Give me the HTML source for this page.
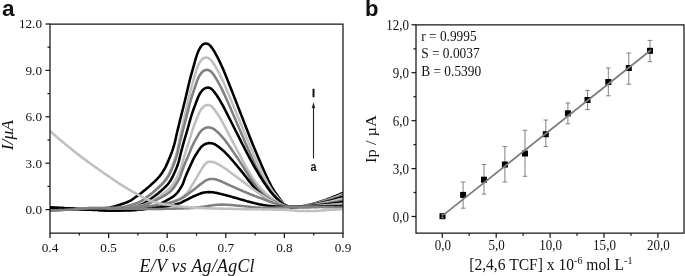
<!DOCTYPE html>
<html><head><meta charset="utf-8"><title>figure</title>
<style>html,body{margin:0;padding:0;background:#fff}svg{display:block}</style></head>
<body>
<svg width="685" height="276" viewBox="0 0 685 276">
<rect width="685" height="276" fill="#fff"/>
<defs><clipPath id="ca"><rect x="50" y="24" width="293" height="209.1"/></clipPath></defs>
<g clip-path="url(#ca)" fill="none" stroke-width="2.55" stroke-linejoin="round">
<path d="M50.0,207.7 L51.0,207.7 L52.0,207.8 L53.0,207.8 L54.0,207.9 L55.0,207.9 L56.0,207.9 L57.0,208.0 L58.0,208.0 L59.0,208.0 L60.0,208.1 L61.0,208.1 L62.0,208.1 L63.0,208.1 L64.0,208.2 L65.0,208.2 L66.0,208.2 L67.0,208.2 L68.0,208.2 L69.0,208.3 L70.0,208.3 L71.0,208.3 L72.0,208.3 L73.0,208.3 L74.0,208.4 L75.0,208.4 L76.0,208.4 L77.0,208.4 L78.0,208.4 L79.0,208.4 L80.0,208.4 L81.0,208.5 L82.0,208.5 L83.0,208.5 L84.0,208.5 L85.0,208.5 L86.0,208.5 L87.0,208.5 L88.0,208.5 L89.0,208.5 L90.0,208.5 L91.0,208.5 L92.0,208.5 L93.0,208.5 L94.0,208.4 L95.0,208.4 L96.0,208.4 L97.0,208.4 L98.0,208.4 L99.0,208.4 L100.0,208.3 L101.0,208.3 L102.0,208.3 L103.0,208.2 L104.0,208.2 L105.0,208.1 L106.0,208.1 L107.0,208.0 L108.0,207.9 L109.0,207.7 L110.0,207.5 L111.0,207.3 L112.0,207.0 L113.0,206.7 L114.0,206.5 L115.0,206.2 L116.0,205.9 L117.0,205.6 L118.0,205.3 L119.0,205.0 L120.0,204.7 L121.0,204.3 L122.0,204.0 L123.0,203.7 L124.0,203.3 L125.0,203.0 L126.0,202.6 L127.0,202.2 L128.0,201.8 L129.0,201.3 L130.0,200.8 L131.0,200.3 L132.0,199.7 L133.0,199.0 L134.0,198.3 L135.0,197.5 L136.0,196.8 L137.0,196.1 L138.0,195.4 L139.0,194.7 L140.0,193.9 L141.0,193.2 L142.0,192.4 L143.0,191.6 L144.0,190.8 L145.0,190.0 L146.0,189.2 L147.0,188.3 L148.0,187.5 L149.0,186.6 L150.0,185.7 L151.0,184.8 L152.0,183.9 L153.0,183.0 L154.0,182.1 L155.0,181.1 L156.0,180.1 L157.0,179.1 L158.0,178.0 L159.0,176.9 L160.0,175.7 L161.0,174.4 L162.0,173.0 L163.0,171.4 L164.0,169.8 L165.0,168.0 L166.0,166.1 L167.0,163.9 L168.0,161.6 L169.0,159.2 L170.0,156.8 L171.0,154.2 L172.0,151.6 L173.0,148.7 L174.0,145.5 L175.0,141.6 L176.0,137.2 L177.0,132.8 L178.0,128.6 L179.0,124.5 L180.0,120.4 L181.0,116.4 L182.0,112.4 L183.0,108.5 L184.0,104.5 L185.0,100.4 L186.0,96.2 L187.0,91.8 L188.0,87.5 L189.0,83.2 L190.0,79.2 L191.0,75.4 L192.0,71.8 L193.0,68.3 L194.0,64.8 L195.0,61.2 L196.0,57.8 L197.0,54.6 L198.0,52.0 L199.0,49.8 L200.0,48.0 L201.0,46.5 L202.0,45.3 L203.0,44.4 L204.0,43.9 L205.0,43.6 L206.0,43.5 L207.0,43.7 L208.0,44.0 L209.0,44.6 L210.0,45.5 L211.0,46.6 L212.0,47.9 L213.0,49.4 L214.0,51.0 L215.0,52.7 L216.0,54.5 L217.0,56.3 L218.0,58.3 L219.0,60.3 L220.0,62.4 L221.0,64.5 L222.0,66.7 L223.0,68.9 L224.0,71.3 L225.0,73.7 L226.0,76.2 L227.0,78.8 L228.0,81.2 L229.0,83.7 L230.0,86.3 L231.0,88.8 L232.0,91.3 L233.0,93.9 L234.0,96.4 L235.0,99.0 L236.0,101.5 L237.0,104.1 L238.0,106.6 L239.0,109.2 L240.0,111.8 L241.0,114.4 L242.0,116.9 L243.0,119.5 L244.0,122.1 L245.0,124.6 L246.0,127.2 L247.0,129.8 L248.0,132.4 L249.0,135.0 L250.0,137.5 L251.0,140.0 L252.0,142.5 L253.0,144.9 L254.0,147.4 L255.0,149.8 L256.0,152.2 L257.0,154.6 L258.0,156.9 L259.0,159.3 L260.0,161.6 L261.0,164.0 L262.0,166.3 L263.0,168.6 L264.0,170.8 L265.0,173.1 L266.0,175.2 L267.0,177.3 L268.0,179.5 L269.0,181.5 L270.0,183.5 L271.0,185.5 L272.0,187.3 L273.0,189.0 L274.0,190.6 L275.0,192.2 L276.0,193.6 L277.0,195.0 L278.0,196.4 L279.0,197.8 L280.0,199.2 L281.0,200.6 L282.0,201.9 L283.0,203.1 L284.0,204.0 L285.0,204.7 L286.0,205.3 L287.0,205.8 L288.0,206.2 L289.0,206.6 L290.0,206.8 L291.0,206.9 L292.0,206.9 L293.0,206.9 L294.0,206.8 L295.0,206.8 L296.0,206.7 L297.0,206.6 L298.0,206.6 L299.0,206.5 L300.0,206.4 L301.0,206.3 L302.0,206.2 L303.0,206.0 L304.0,205.9 L305.0,205.7 L306.0,205.5 L307.0,205.3 L308.0,205.1 L309.0,204.8 L310.0,204.6 L311.0,204.4 L312.0,204.1 L313.0,203.9 L314.0,203.6 L315.0,203.3 L316.0,203.1 L317.0,202.8 L318.0,202.5 L319.0,202.2 L320.0,201.8 L321.0,201.5 L322.0,201.2 L323.0,200.8 L324.0,200.4 L325.0,200.1 L326.0,199.7 L327.0,199.4 L328.0,199.0 L329.0,198.6 L330.0,198.2 L331.0,197.9 L332.0,197.5 L333.0,197.1 L334.0,196.7 L335.0,196.3 L336.0,195.9 L337.0,195.4 L338.0,195.0 L339.0,194.6 L340.0,194.1 L341.0,193.7 L342.0,193.3 L343.0,192.8" stroke="#000000"/>
<path d="M50.0,210.0 L51.0,209.9 L52.0,209.9 L53.0,209.8 L54.0,209.8 L55.0,209.7 L56.0,209.7 L57.0,209.6 L58.0,209.6 L59.0,209.5 L60.0,209.5 L61.0,209.4 L62.0,209.4 L63.0,209.3 L64.0,209.3 L65.0,209.2 L66.0,209.2 L67.0,209.1 L68.0,209.1 L69.0,209.0 L70.0,209.0 L71.0,208.9 L72.0,208.8 L73.0,208.8 L74.0,208.7 L75.0,208.7 L76.0,208.6 L77.0,208.6 L78.0,208.6 L79.0,208.5 L80.0,208.5 L81.0,208.4 L82.0,208.4 L83.0,208.4 L84.0,208.3 L85.0,208.3 L86.0,208.2 L87.0,208.2 L88.0,208.1 L89.0,208.1 L90.0,208.0 L91.0,208.0 L92.0,208.0 L93.0,208.1 L94.0,208.1 L95.0,208.1 L96.0,208.1 L97.0,208.1 L98.0,208.1 L99.0,208.1 L100.0,208.1 L101.0,208.1 L102.0,208.1 L103.0,208.2 L104.0,208.2 L105.0,208.2 L106.0,208.1 L107.0,208.1 L108.0,208.1 L109.0,208.1 L110.0,208.1 L111.0,208.1 L112.0,208.1 L113.0,208.0 L114.0,208.0 L115.0,208.0 L116.0,208.0 L117.0,207.9 L118.0,207.9 L119.0,207.9 L120.0,207.8 L121.0,207.7 L122.0,207.6 L123.0,207.5 L124.0,207.4 L125.0,207.3 L126.0,207.0 L127.0,206.7 L128.0,206.4 L129.0,206.1 L130.0,205.8 L131.0,205.5 L132.0,205.2 L133.0,204.9 L134.0,204.5 L135.0,204.2 L136.0,203.8 L137.0,203.4 L138.0,203.1 L139.0,202.6 L140.0,202.2 L141.0,201.7 L142.0,201.2 L143.0,200.5 L144.0,199.8 L145.0,199.0 L146.0,198.2 L147.0,197.4 L148.0,196.6 L149.0,195.7 L150.0,194.9 L151.0,194.1 L152.0,193.2 L153.0,192.3 L154.0,191.4 L155.0,190.4 L156.0,189.5 L157.0,188.5 L158.0,187.5 L159.0,186.5 L160.0,185.5 L161.0,184.4 L162.0,183.3 L163.0,182.2 L164.0,181.1 L165.0,179.8 L166.0,178.5 L167.0,177.0 L168.0,175.3 L169.0,173.5 L170.0,171.5 L171.0,169.3 L172.0,166.7 L173.0,164.0 L174.0,161.2 L175.0,158.3 L176.0,155.2 L177.0,151.6 L178.0,147.2 L179.0,141.9 L180.0,137.0 L181.0,132.3 L182.0,127.7 L183.0,123.2 L184.0,118.9 L185.0,114.7 L186.0,110.4 L187.0,105.9 L188.0,101.4 L189.0,96.9 L190.0,92.6 L191.0,88.7 L192.0,85.0 L193.0,81.5 L194.0,78.1 L195.0,74.7 L196.0,71.4 L197.0,68.3 L198.0,65.7 L199.0,63.7 L200.0,61.9 L201.0,60.5 L202.0,59.4 L203.0,58.5 L204.0,58.0 L205.0,57.7 L206.0,57.5 L207.0,57.6 L208.0,57.9 L209.0,58.4 L210.0,59.2 L211.0,60.1 L212.0,61.3 L213.0,62.8 L214.0,64.3 L215.0,65.9 L216.0,67.5 L217.0,69.3 L218.0,71.1 L219.0,73.1 L220.0,75.0 L221.0,77.1 L222.0,79.1 L223.0,81.3 L224.0,83.5 L225.0,85.8 L226.0,88.2 L227.0,90.6 L228.0,92.9 L229.0,95.3 L230.0,97.6 L231.0,100.0 L232.0,102.4 L233.0,104.9 L234.0,107.3 L235.0,109.7 L236.0,112.1 L237.0,114.5 L238.0,116.9 L239.0,119.3 L240.0,121.8 L241.0,124.2 L242.0,126.6 L243.0,129.0 L244.0,131.5 L245.0,133.9 L246.0,136.4 L247.0,138.8 L248.0,141.2 L249.0,143.6 L250.0,146.0 L251.0,148.3 L252.0,150.6 L253.0,152.9 L254.0,155.2 L255.0,157.4 L256.0,159.7 L257.0,161.9 L258.0,164.0 L259.0,166.2 L260.0,168.3 L261.0,170.4 L262.0,172.5 L263.0,174.5 L264.0,176.4 L265.0,178.3 L266.0,180.2 L267.0,182.1 L268.0,183.9 L269.0,185.6 L270.0,187.3 L271.0,188.9 L272.0,190.4 L273.0,191.8 L274.0,193.1 L275.0,194.4 L276.0,195.6 L277.0,196.8 L278.0,198.0 L279.0,199.2 L280.0,200.4 L281.0,201.6 L282.0,202.7 L283.0,203.6 L284.0,204.4 L285.0,205.0 L286.0,205.5 L287.0,205.9 L288.0,206.3 L289.0,206.6 L290.0,206.8 L291.0,206.9 L292.0,206.9 L293.0,206.9 L294.0,206.8 L295.0,206.8 L296.0,206.7 L297.0,206.7 L298.0,206.6 L299.0,206.5 L300.0,206.5 L301.0,206.4 L302.0,206.3 L303.0,206.1 L304.0,206.0 L305.0,205.8 L306.0,205.6 L307.0,205.4 L308.0,205.2 L309.0,205.0 L310.0,204.8 L311.0,204.6 L312.0,204.4 L313.0,204.1 L314.0,203.9 L315.0,203.7 L316.0,203.4 L317.0,203.2 L318.0,202.9 L319.0,202.6 L320.0,202.3 L321.0,202.0 L322.0,201.7 L323.0,201.3 L324.0,201.0 L325.0,200.7 L326.0,200.4 L327.0,200.0 L328.0,199.7 L329.0,199.4 L330.0,199.0 L331.0,198.7 L332.0,198.3 L333.0,198.0 L334.0,197.6 L335.0,197.2 L336.0,196.9 L337.0,196.5 L338.0,196.1 L339.0,195.7 L340.0,195.3 L341.0,194.9 L342.0,194.5 L343.0,194.1" stroke="#c0c0c0"/>
<path d="M50.0,210.0 L51.0,210.0 L52.0,209.9 L53.0,209.9 L54.0,209.8 L55.0,209.8 L56.0,209.7 L57.0,209.7 L58.0,209.6 L59.0,209.6 L60.0,209.5 L61.0,209.5 L62.0,209.4 L63.0,209.4 L64.0,209.3 L65.0,209.3 L66.0,209.2 L67.0,209.2 L68.0,209.1 L69.0,209.1 L70.0,209.0 L71.0,209.0 L72.0,208.9 L73.0,208.9 L74.0,208.9 L75.0,208.8 L76.0,208.8 L77.0,208.7 L78.0,208.7 L79.0,208.6 L80.0,208.6 L81.0,208.5 L82.0,208.5 L83.0,208.4 L84.0,208.4 L85.0,208.3 L86.0,208.3 L87.0,208.2 L88.0,208.2 L89.0,208.1 L90.0,208.1 L91.0,208.1 L92.0,208.1 L93.0,208.1 L94.0,208.1 L95.0,208.1 L96.0,208.1 L97.0,208.1 L98.0,208.1 L99.0,208.1 L100.0,208.1 L101.0,208.1 L102.0,208.1 L103.0,208.1 L104.0,208.1 L105.0,208.1 L106.0,208.1 L107.0,208.1 L108.0,208.1 L109.0,208.1 L110.0,208.0 L111.0,208.0 L112.0,208.0 L113.0,208.0 L114.0,208.0 L115.0,207.9 L116.0,207.9 L117.0,207.8 L118.0,207.8 L119.0,207.7 L120.0,207.6 L121.0,207.5 L122.0,207.3 L123.0,207.1 L124.0,206.9 L125.0,206.6 L126.0,206.4 L127.0,206.1 L128.0,205.8 L129.0,205.6 L130.0,205.3 L131.0,205.0 L132.0,204.7 L133.0,204.4 L134.0,204.0 L135.0,203.7 L136.0,203.4 L137.0,203.0 L138.0,202.6 L139.0,202.2 L140.0,201.7 L141.0,201.1 L142.0,200.5 L143.0,199.8 L144.0,199.0 L145.0,198.3 L146.0,197.6 L147.0,196.9 L148.0,196.2 L149.0,195.5 L150.0,194.7 L151.0,194.0 L152.0,193.2 L153.0,192.4 L154.0,191.5 L155.0,190.7 L156.0,189.8 L157.0,189.0 L158.0,188.1 L159.0,187.2 L160.0,186.2 L161.0,185.3 L162.0,184.3 L163.0,183.3 L164.0,182.2 L165.0,181.0 L166.0,179.7 L167.0,178.3 L168.0,176.8 L169.0,175.1 L170.0,173.2 L171.0,171.0 L172.0,168.7 L173.0,166.3 L174.0,163.8 L175.0,161.2 L176.0,158.3 L177.0,155.0 L178.0,150.8 L179.0,146.2 L180.0,142.0 L181.0,137.9 L182.0,133.9 L183.0,130.0 L184.0,126.2 L185.0,122.5 L186.0,118.7 L187.0,114.8 L188.0,110.8 L189.0,106.8 L190.0,103.0 L191.0,99.5 L192.0,96.2 L193.0,93.0 L194.0,90.0 L195.0,87.0 L196.0,84.0 L197.0,81.1 L198.0,78.6 L199.0,76.5 L200.0,74.8 L201.0,73.4 L202.0,72.2 L203.0,71.3 L204.0,70.6 L205.0,70.2 L206.0,69.9 L207.0,69.8 L208.0,69.9 L209.0,70.3 L210.0,70.8 L211.0,71.6 L212.0,72.7 L213.0,73.9 L214.0,75.3 L215.0,76.8 L216.0,78.4 L217.0,80.0 L218.0,81.8 L219.0,83.6 L220.0,85.5 L221.0,87.4 L222.0,89.4 L223.0,91.4 L224.0,93.6 L225.0,95.8 L226.0,98.0 L227.0,100.3 L228.0,102.6 L229.0,104.8 L230.0,107.1 L231.0,109.4 L232.0,111.7 L233.0,114.0 L234.0,116.3 L235.0,118.6 L236.0,120.9 L237.0,123.3 L238.0,125.6 L239.0,127.9 L240.0,130.2 L241.0,132.5 L242.0,134.9 L243.0,137.2 L244.0,139.5 L245.0,141.9 L246.0,144.2 L247.0,146.5 L248.0,148.8 L249.0,151.1 L250.0,153.3 L251.0,155.5 L252.0,157.8 L253.0,159.9 L254.0,162.1 L255.0,164.2 L256.0,166.2 L257.0,168.2 L258.0,170.2 L259.0,172.1 L260.0,174.0 L261.0,175.9 L262.0,177.7 L263.0,179.4 L264.0,181.1 L265.0,182.8 L266.0,184.4 L267.0,186.0 L268.0,187.5 L269.0,189.0 L270.0,190.4 L271.0,191.7 L272.0,192.9 L273.0,194.0 L274.0,195.2 L275.0,196.2 L276.0,197.3 L277.0,198.3 L278.0,199.3 L279.0,200.4 L280.0,201.4 L281.0,202.4 L282.0,203.3 L283.0,204.1 L284.0,204.7 L285.0,205.3 L286.0,205.7 L287.0,206.1 L288.0,206.4 L289.0,206.7 L290.0,206.9 L291.0,206.9 L292.0,206.9 L293.0,206.9 L294.0,206.9 L295.0,206.8 L296.0,206.8 L297.0,206.7 L298.0,206.6 L299.0,206.6 L300.0,206.5 L301.0,206.4 L302.0,206.3 L303.0,206.2 L304.0,206.1 L305.0,205.9 L306.0,205.8 L307.0,205.6 L308.0,205.4 L309.0,205.2 L310.0,205.0 L311.0,204.8 L312.0,204.6 L313.0,204.4 L314.0,204.2 L315.0,203.9 L316.0,203.7 L317.0,203.5 L318.0,203.2 L319.0,203.0 L320.0,202.7 L321.0,202.4 L322.0,202.1 L323.0,201.8 L324.0,201.5 L325.0,201.2 L326.0,200.9 L327.0,200.6 L328.0,200.3 L329.0,200.0 L330.0,199.7 L331.0,199.4 L332.0,199.1 L333.0,198.8 L334.0,198.4 L335.0,198.1 L336.0,197.7 L337.0,197.4 L338.0,197.0 L339.0,196.7 L340.0,196.3 L341.0,196.0 L342.0,195.6 L343.0,195.2" stroke="#808080"/>
<path d="M50.0,207.5 L51.0,207.5 L52.0,207.6 L53.0,207.6 L54.0,207.7 L55.0,207.7 L56.0,207.8 L57.0,207.8 L58.0,207.9 L59.0,207.9 L60.0,208.0 L61.0,208.0 L62.0,208.0 L63.0,208.1 L64.0,208.1 L65.0,208.2 L66.0,208.2 L67.0,208.3 L68.0,208.3 L69.0,208.4 L70.0,208.4 L71.0,208.5 L72.0,208.5 L73.0,208.6 L74.0,208.6 L75.0,208.7 L76.0,208.7 L77.0,208.8 L78.0,208.9 L79.0,208.9 L80.0,209.0 L81.0,209.0 L82.0,209.1 L83.0,209.1 L84.0,209.2 L85.0,209.2 L86.0,209.3 L87.0,209.3 L88.0,209.4 L89.0,209.4 L90.0,209.5 L91.0,209.5 L92.0,209.6 L93.0,209.6 L94.0,209.7 L95.0,209.7 L96.0,209.7 L97.0,209.8 L98.0,209.8 L99.0,209.9 L100.0,209.9 L101.0,209.9 L102.0,210.0 L103.0,210.0 L104.0,210.1 L105.0,210.1 L106.0,210.1 L107.0,210.1 L108.0,210.2 L109.0,210.2 L110.0,210.2 L111.0,210.2 L112.0,210.2 L113.0,210.1 L114.0,210.1 L115.0,210.1 L116.0,210.0 L117.0,210.0 L118.0,209.9 L119.0,209.9 L120.0,209.8 L121.0,209.8 L122.0,209.7 L123.0,209.6 L124.0,209.5 L125.0,209.4 L126.0,209.2 L127.0,209.0 L128.0,208.8 L129.0,208.5 L130.0,208.3 L131.0,208.0 L132.0,207.8 L133.0,207.5 L134.0,207.2 L135.0,206.9 L136.0,206.6 L137.0,206.3 L138.0,205.9 L139.0,205.6 L140.0,205.2 L141.0,204.8 L142.0,204.4 L143.0,203.9 L144.0,203.4 L145.0,202.8 L146.0,202.1 L147.0,201.4 L148.0,200.7 L149.0,200.0 L150.0,199.4 L151.0,198.7 L152.0,197.9 L153.0,197.2 L154.0,196.5 L155.0,195.7 L156.0,194.9 L157.0,194.2 L158.0,193.4 L159.0,192.5 L160.0,191.7 L161.0,190.9 L162.0,190.0 L163.0,189.1 L164.0,188.2 L165.0,187.2 L166.0,186.3 L167.0,185.2 L168.0,184.0 L169.0,182.7 L170.0,181.3 L171.0,179.7 L172.0,177.9 L173.0,175.9 L174.0,173.7 L175.0,171.5 L176.0,169.2 L177.0,166.7 L178.0,164.0 L179.0,160.6 L180.0,156.5 L181.0,152.4 L182.0,148.6 L183.0,144.9 L184.0,141.3 L185.0,137.9 L186.0,134.5 L187.0,131.1 L188.0,127.6 L189.0,124.0 L190.0,120.4 L191.0,117.0 L192.0,113.8 L193.0,110.8 L194.0,108.0 L195.0,105.4 L196.0,102.7 L197.0,100.0 L198.0,97.5 L199.0,95.3 L200.0,93.5 L201.0,92.0 L202.0,90.7 L203.0,89.7 L204.0,88.9 L205.0,88.3 L206.0,87.9 L207.0,87.7 L208.0,87.6 L209.0,87.7 L210.0,88.0 L211.0,88.6 L212.0,89.4 L213.0,90.4 L214.0,91.6 L215.0,92.9 L216.0,94.3 L217.0,95.7 L218.0,97.3 L219.0,98.9 L220.0,100.5 L221.0,102.3 L222.0,104.0 L223.0,105.8 L224.0,107.7 L225.0,109.6 L226.0,111.6 L227.0,113.6 L228.0,115.6 L229.0,117.6 L230.0,119.5 L231.0,121.5 L232.0,123.5 L233.0,125.5 L234.0,127.5 L235.0,129.5 L236.0,131.5 L237.0,133.5 L238.0,135.4 L239.0,137.4 L240.0,139.4 L241.0,141.4 L242.0,143.3 L243.0,145.3 L244.0,147.2 L245.0,149.2 L246.0,151.1 L247.0,153.1 L248.0,155.0 L249.0,156.9 L250.0,158.8 L251.0,160.6 L252.0,162.4 L253.0,164.3 L254.0,166.0 L255.0,167.8 L256.0,169.5 L257.0,171.2 L258.0,172.9 L259.0,174.6 L260.0,176.2 L261.0,177.8 L262.0,179.4 L263.0,181.0 L264.0,182.5 L265.0,183.9 L266.0,185.4 L267.0,186.8 L268.0,188.2 L269.0,189.6 L270.0,191.0 L271.0,192.2 L272.0,193.4 L273.0,194.6 L274.0,195.6 L275.0,196.7 L276.0,197.7 L277.0,198.6 L278.0,199.6 L279.0,200.6 L280.0,201.6 L281.0,202.5 L282.0,203.4 L283.0,204.2 L284.0,204.9 L285.0,205.4 L286.0,205.8 L287.0,206.2 L288.0,206.4 L289.0,206.7 L290.0,206.9 L291.0,206.9 L292.0,206.9 L293.0,206.9 L294.0,206.9 L295.0,206.8 L296.0,206.8 L297.0,206.7 L298.0,206.7 L299.0,206.6 L300.0,206.6 L301.0,206.5 L302.0,206.4 L303.0,206.3 L304.0,206.2 L305.0,206.1 L306.0,205.9 L307.0,205.8 L308.0,205.6 L309.0,205.4 L310.0,205.3 L311.0,205.1 L312.0,204.9 L313.0,204.7 L314.0,204.5 L315.0,204.4 L316.0,204.2 L317.0,203.9 L318.0,203.7 L319.0,203.5 L320.0,203.3 L321.0,203.0 L322.0,202.8 L323.0,202.5 L324.0,202.3 L325.0,202.0 L326.0,201.8 L327.0,201.5 L328.0,201.2 L329.0,201.0 L330.0,200.7 L331.0,200.4 L332.0,200.2 L333.0,199.9 L334.0,199.6 L335.0,199.3 L336.0,199.0 L337.0,198.7 L338.0,198.4 L339.0,198.1 L340.0,197.8 L341.0,197.5 L342.0,197.2 L343.0,196.9" stroke="#000000"/>
<path d="M50.0,210.2 L51.0,210.1 L52.0,210.1 L53.0,210.0 L54.0,210.0 L55.0,209.9 L56.0,209.9 L57.0,209.8 L58.0,209.8 L59.0,209.7 L60.0,209.7 L61.0,209.6 L62.0,209.6 L63.0,209.5 L64.0,209.5 L65.0,209.4 L66.0,209.4 L67.0,209.3 L68.0,209.3 L69.0,209.2 L70.0,209.2 L71.0,209.1 L72.0,209.0 L73.0,209.0 L74.0,208.9 L75.0,208.9 L76.0,208.8 L77.0,208.7 L78.0,208.7 L79.0,208.6 L80.0,208.6 L81.0,208.5 L82.0,208.4 L83.0,208.4 L84.0,208.3 L85.0,208.3 L86.0,208.3 L87.0,208.2 L88.0,208.2 L89.0,208.1 L90.0,208.1 L91.0,208.1 L92.0,208.1 L93.0,208.1 L94.0,208.2 L95.0,208.2 L96.0,208.2 L97.0,208.2 L98.0,208.2 L99.0,208.2 L100.0,208.2 L101.0,208.3 L102.0,208.3 L103.0,208.3 L104.0,208.3 L105.0,208.3 L106.0,208.3 L107.0,208.3 L108.0,208.3 L109.0,208.3 L110.0,208.3 L111.0,208.3 L112.0,208.3 L113.0,208.3 L114.0,208.3 L115.0,208.3 L116.0,208.3 L117.0,208.3 L118.0,208.3 L119.0,208.3 L120.0,208.3 L121.0,208.3 L122.0,208.2 L123.0,208.2 L124.0,208.2 L125.0,208.2 L126.0,208.1 L127.0,208.1 L128.0,208.0 L129.0,208.0 L130.0,207.9 L131.0,207.7 L132.0,207.5 L133.0,207.3 L134.0,207.1 L135.0,206.9 L136.0,206.7 L137.0,206.5 L138.0,206.3 L139.0,206.0 L140.0,205.8 L141.0,205.5 L142.0,205.2 L143.0,205.0 L144.0,204.7 L145.0,204.4 L146.0,204.0 L147.0,203.6 L148.0,203.2 L149.0,202.6 L150.0,202.0 L151.0,201.5 L152.0,200.9 L153.0,200.3 L154.0,199.7 L155.0,199.1 L156.0,198.5 L157.0,197.8 L158.0,197.2 L159.0,196.5 L160.0,195.8 L161.0,195.2 L162.0,194.4 L163.0,193.7 L164.0,193.0 L165.0,192.2 L166.0,191.5 L167.0,190.7 L168.0,189.8 L169.0,188.9 L170.0,188.0 L171.0,186.9 L172.0,185.7 L173.0,184.4 L174.0,182.9 L175.0,181.2 L176.0,179.3 L177.0,177.3 L178.0,175.3 L179.0,173.2 L180.0,170.8 L181.0,168.0 L182.0,164.4 L183.0,160.7 L184.0,157.3 L185.0,154.0 L186.0,150.8 L187.0,147.6 L188.0,144.6 L189.0,141.5 L190.0,138.3 L191.0,135.0 L192.0,131.7 L193.0,128.6 L194.0,125.8 L195.0,123.2 L196.0,120.7 L197.0,118.2 L198.0,115.7 L199.0,113.3 L200.0,111.3 L201.0,109.6 L202.0,108.3 L203.0,107.2 L204.0,106.4 L205.0,105.7 L206.0,105.3 L207.0,105.1 L208.0,105.0 L209.0,105.1 L210.0,105.4 L211.0,106.0 L212.0,106.8 L213.0,107.9 L214.0,109.1 L215.0,110.4 L216.0,111.7 L217.0,113.2 L218.0,114.7 L219.0,116.3 L220.0,117.9 L221.0,119.6 L222.0,121.3 L223.0,123.2 L224.0,125.0 L225.0,127.0 L226.0,128.8 L227.0,130.7 L228.0,132.6 L229.0,134.6 L230.0,136.5 L231.0,138.4 L232.0,140.3 L233.0,142.2 L234.0,144.1 L235.0,146.0 L236.0,147.9 L237.0,149.8 L238.0,151.7 L239.0,153.6 L240.0,155.5 L241.0,157.4 L242.0,159.3 L243.0,161.2 L244.0,163.1 L245.0,164.9 L246.0,166.7 L247.0,168.5 L248.0,170.3 L249.0,172.0 L250.0,173.7 L251.0,175.3 L252.0,176.9 L253.0,178.4 L254.0,179.8 L255.0,181.2 L256.0,182.5 L257.0,183.8 L258.0,185.1 L259.0,186.3 L260.0,187.4 L261.0,188.5 L262.0,189.6 L263.0,190.7 L264.0,191.7 L265.0,192.7 L266.0,193.6 L267.0,194.5 L268.0,195.4 L269.0,196.2 L270.0,197.0 L271.0,197.7 L272.0,198.4 L273.0,199.1 L274.0,199.7 L275.0,200.4 L276.0,201.0 L277.0,201.6 L278.0,202.3 L279.0,203.0 L280.0,203.6 L281.0,204.2 L282.0,204.8 L283.0,205.2 L284.0,205.6 L285.0,205.9 L286.0,206.2 L287.0,206.4 L288.0,206.6 L289.0,206.8 L290.0,206.9 L291.0,206.9 L292.0,206.9 L293.0,206.9 L294.0,206.9 L295.0,206.9 L296.0,206.8 L297.0,206.8 L298.0,206.7 L299.0,206.7 L300.0,206.6 L301.0,206.6 L302.0,206.5 L303.0,206.4 L304.0,206.3 L305.0,206.2 L306.0,206.1 L307.0,206.0 L308.0,205.8 L309.0,205.7 L310.0,205.5 L311.0,205.4 L312.0,205.2 L313.0,205.1 L314.0,204.9 L315.0,204.8 L316.0,204.6 L317.0,204.4 L318.0,204.2 L319.0,204.0 L320.0,203.8 L321.0,203.6 L322.0,203.4 L323.0,203.2 L324.0,203.0 L325.0,202.8 L326.0,202.6 L327.0,202.3 L328.0,202.1 L329.0,201.9 L330.0,201.7 L331.0,201.5 L332.0,201.2 L333.0,201.0 L334.0,200.8 L335.0,200.5 L336.0,200.3 L337.0,200.0 L338.0,199.8 L339.0,199.5 L340.0,199.2 L341.0,199.0 L342.0,198.7 L343.0,198.4" stroke="#c0c0c0"/>
<path d="M50.0,210.3 L51.0,210.2 L52.0,210.2 L53.0,210.1 L54.0,210.1 L55.0,210.0 L56.0,210.0 L57.0,209.9 L58.0,209.9 L59.0,209.8 L60.0,209.8 L61.0,209.7 L62.0,209.7 L63.0,209.6 L64.0,209.6 L65.0,209.5 L66.0,209.5 L67.0,209.4 L68.0,209.4 L69.0,209.3 L70.0,209.3 L71.0,209.2 L72.0,209.1 L73.0,209.1 L74.0,209.0 L75.0,209.0 L76.0,208.9 L77.0,208.8 L78.0,208.8 L79.0,208.7 L80.0,208.7 L81.0,208.6 L82.0,208.6 L83.0,208.5 L84.0,208.5 L85.0,208.4 L86.0,208.4 L87.0,208.3 L88.0,208.3 L89.0,208.2 L90.0,208.2 L91.0,208.2 L92.0,208.2 L93.0,208.2 L94.0,208.2 L95.0,208.2 L96.0,208.3 L97.0,208.3 L98.0,208.3 L99.0,208.3 L100.0,208.3 L101.0,208.3 L102.0,208.3 L103.0,208.3 L104.0,208.3 L105.0,208.4 L106.0,208.4 L107.0,208.4 L108.0,208.4 L109.0,208.4 L110.0,208.4 L111.0,208.4 L112.0,208.4 L113.0,208.4 L114.0,208.4 L115.0,208.4 L116.0,208.4 L117.0,208.4 L118.0,208.4 L119.0,208.3 L120.0,208.3 L121.0,208.3 L122.0,208.3 L123.0,208.3 L124.0,208.3 L125.0,208.2 L126.0,208.2 L127.0,208.2 L128.0,208.1 L129.0,208.0 L130.0,207.9 L131.0,207.8 L132.0,207.6 L133.0,207.4 L134.0,207.3 L135.0,207.1 L136.0,206.9 L137.0,206.8 L138.0,206.6 L139.0,206.4 L140.0,206.2 L141.0,206.0 L142.0,205.8 L143.0,205.5 L144.0,205.3 L145.0,205.0 L146.0,204.7 L147.0,204.4 L148.0,203.9 L149.0,203.5 L150.0,203.0 L151.0,202.6 L152.0,202.1 L153.0,201.7 L154.0,201.2 L155.0,200.7 L156.0,200.2 L157.0,199.7 L158.0,199.2 L159.0,198.6 L160.0,198.1 L161.0,197.6 L162.0,197.0 L163.0,196.4 L164.0,195.8 L165.0,195.2 L166.0,194.6 L167.0,194.0 L168.0,193.3 L169.0,192.5 L170.0,191.7 L171.0,190.8 L172.0,189.7 L173.0,188.6 L174.0,187.3 L175.0,185.8 L176.0,184.3 L177.0,182.7 L178.0,181.0 L179.0,179.2 L180.0,177.0 L181.0,174.2 L182.0,171.3 L183.0,168.6 L184.0,166.0 L185.0,163.5 L186.0,161.1 L187.0,158.8 L188.0,156.4 L189.0,154.0 L190.0,151.5 L191.0,149.1 L192.0,146.7 L193.0,144.6 L194.0,142.6 L195.0,140.7 L196.0,138.9 L197.0,137.1 L198.0,135.3 L199.0,133.6 L200.0,132.2 L201.0,131.0 L202.0,130.1 L203.0,129.3 L204.0,128.6 L205.0,128.1 L206.0,127.8 L207.0,127.6 L208.0,127.4 L209.0,127.4 L210.0,127.5 L211.0,127.7 L212.0,128.1 L213.0,128.6 L214.0,129.2 L215.0,129.9 L216.0,130.7 L217.0,131.6 L218.0,132.5 L219.0,133.5 L220.0,134.5 L221.0,135.6 L222.0,136.7 L223.0,137.9 L224.0,139.0 L225.0,140.3 L226.0,141.6 L227.0,142.9 L228.0,144.3 L229.0,145.7 L230.0,147.1 L231.0,148.5 L232.0,150.0 L233.0,151.4 L234.0,152.9 L235.0,154.4 L236.0,155.8 L237.0,157.3 L238.0,158.8 L239.0,160.4 L240.0,161.9 L241.0,163.4 L242.0,165.0 L243.0,166.5 L244.0,168.1 L245.0,169.7 L246.0,171.3 L247.0,172.9 L248.0,174.5 L249.0,176.1 L250.0,177.6 L251.0,179.2 L252.0,180.7 L253.0,182.2 L254.0,183.6 L255.0,184.9 L256.0,186.2 L257.0,187.5 L258.0,188.7 L259.0,189.9 L260.0,191.0 L261.0,192.0 L262.0,193.0 L263.0,194.0 L264.0,194.9 L265.0,195.7 L266.0,196.6 L267.0,197.3 L268.0,198.1 L269.0,198.7 L270.0,199.3 L271.0,199.9 L272.0,200.5 L273.0,201.0 L274.0,201.5 L275.0,202.0 L276.0,202.5 L277.0,203.0 L278.0,203.5 L279.0,204.1 L280.0,204.5 L281.0,205.0 L282.0,205.4 L283.0,205.7 L284.0,206.0 L285.0,206.2 L286.0,206.4 L287.0,206.6 L288.0,206.7 L289.0,206.8 L290.0,206.9 L291.0,207.0 L292.0,207.0 L293.0,206.9 L294.0,206.9 L295.0,206.9 L296.0,206.9 L297.0,206.8 L298.0,206.8 L299.0,206.8 L300.0,206.7 L301.0,206.7 L302.0,206.6 L303.0,206.6 L304.0,206.5 L305.0,206.4 L306.0,206.3 L307.0,206.2 L308.0,206.1 L309.0,206.0 L310.0,205.9 L311.0,205.8 L312.0,205.6 L313.0,205.5 L314.0,205.4 L315.0,205.3 L316.0,205.1 L317.0,205.0 L318.0,204.9 L319.0,204.7 L320.0,204.5 L321.0,204.4 L322.0,204.2 L323.0,204.1 L324.0,203.9 L325.0,203.8 L326.0,203.6 L327.0,203.4 L328.0,203.3 L329.0,203.1 L330.0,202.9 L331.0,202.8 L332.0,202.6 L333.0,202.4 L334.0,202.2 L335.0,202.1 L336.0,201.9 L337.0,201.7 L338.0,201.5 L339.0,201.3 L340.0,201.1 L341.0,200.9 L342.0,200.7 L343.0,200.5" stroke="#808080"/>
<path d="M50.0,207.7 L51.0,207.8 L52.0,207.8 L53.0,207.9 L54.0,207.9 L55.0,208.0 L56.0,208.0 L57.0,208.0 L58.0,208.1 L59.0,208.1 L60.0,208.2 L61.0,208.2 L62.0,208.3 L63.0,208.3 L64.0,208.4 L65.0,208.4 L66.0,208.5 L67.0,208.5 L68.0,208.6 L69.0,208.6 L70.0,208.7 L71.0,208.7 L72.0,208.7 L73.0,208.8 L74.0,208.8 L75.0,208.9 L76.0,208.9 L77.0,209.0 L78.0,209.0 L79.0,209.1 L80.0,209.1 L81.0,209.2 L82.0,209.2 L83.0,209.2 L84.0,209.3 L85.0,209.3 L86.0,209.4 L87.0,209.4 L88.0,209.4 L89.0,209.5 L90.0,209.5 L91.0,209.6 L92.0,209.6 L93.0,209.6 L94.0,209.7 L95.0,209.7 L96.0,209.8 L97.0,209.8 L98.0,209.8 L99.0,209.9 L100.0,210.0 L101.0,210.0 L102.0,210.1 L103.0,210.1 L104.0,210.2 L105.0,210.2 L106.0,210.3 L107.0,210.3 L108.0,210.3 L109.0,210.4 L110.0,210.4 L111.0,210.4 L112.0,210.4 L113.0,210.4 L114.0,210.4 L115.0,210.4 L116.0,210.4 L117.0,210.4 L118.0,210.4 L119.0,210.4 L120.0,210.4 L121.0,210.3 L122.0,210.3 L123.0,210.3 L124.0,210.3 L125.0,210.3 L126.0,210.3 L127.0,210.3 L128.0,210.2 L129.0,210.2 L130.0,210.2 L131.0,210.2 L132.0,210.1 L133.0,210.1 L134.0,210.1 L135.0,210.0 L136.0,210.0 L137.0,209.9 L138.0,209.8 L139.0,209.7 L140.0,209.6 L141.0,209.5 L142.0,209.3 L143.0,209.1 L144.0,208.9 L145.0,208.7 L146.0,208.5 L147.0,208.3 L148.0,208.1 L149.0,207.8 L150.0,207.6 L151.0,207.4 L152.0,207.1 L153.0,206.8 L154.0,206.5 L155.0,206.2 L156.0,205.7 L157.0,205.2 L158.0,204.8 L159.0,204.3 L160.0,203.8 L161.0,203.3 L162.0,202.8 L163.0,202.3 L164.0,201.8 L165.0,201.3 L166.0,200.8 L167.0,200.2 L168.0,199.7 L169.0,199.1 L170.0,198.5 L171.0,197.9 L172.0,197.3 L173.0,196.7 L174.0,195.9 L175.0,195.1 L176.0,194.1 L177.0,193.1 L178.0,191.8 L179.0,190.4 L180.0,188.9 L181.0,187.3 L182.0,185.6 L183.0,183.6 L184.0,180.8 L185.0,178.0 L186.0,175.4 L187.0,173.0 L188.0,170.8 L189.0,168.6 L190.0,166.5 L191.0,164.3 L192.0,162.1 L193.0,159.9 L194.0,157.9 L195.0,156.2 L196.0,154.5 L197.0,153.0 L198.0,151.4 L199.0,149.9 L200.0,148.5 L201.0,147.2 L202.0,146.2 L203.0,145.4 L204.0,144.7 L205.0,144.2 L206.0,143.8 L207.0,143.4 L208.0,143.3 L209.0,143.1 L210.0,143.1 L211.0,143.2 L212.0,143.3 L213.0,143.6 L214.0,144.0 L215.0,144.4 L216.0,145.0 L217.0,145.7 L218.0,146.4 L219.0,147.1 L220.0,147.9 L221.0,148.7 L222.0,149.6 L223.0,150.5 L224.0,151.4 L225.0,152.3 L226.0,153.3 L227.0,154.3 L228.0,155.4 L229.0,156.5 L230.0,157.6 L231.0,158.8 L232.0,159.9 L233.0,161.0 L234.0,162.2 L235.0,163.4 L236.0,164.6 L237.0,165.7 L238.0,167.0 L239.0,168.2 L240.0,169.4 L241.0,170.6 L242.0,171.9 L243.0,173.1 L244.0,174.4 L245.0,175.7 L246.0,177.0 L247.0,178.3 L248.0,179.6 L249.0,180.9 L250.0,182.2 L251.0,183.4 L252.0,184.7 L253.0,185.9 L254.0,187.1 L255.0,188.3 L256.0,189.3 L257.0,190.4 L258.0,191.4 L259.0,192.3 L260.0,193.2 L261.0,194.1 L262.0,194.9 L263.0,195.7 L264.0,196.5 L265.0,197.2 L266.0,197.9 L267.0,198.6 L268.0,199.2 L269.0,199.7 L270.0,200.3 L271.0,200.8 L272.0,201.3 L273.0,201.7 L274.0,202.2 L275.0,202.6 L276.0,203.0 L277.0,203.4 L278.0,203.9 L279.0,204.3 L280.0,204.7 L281.0,205.1 L282.0,205.4 L283.0,205.7 L284.0,206.0 L285.0,206.2 L286.0,206.3 L287.0,206.5 L288.0,206.6 L289.0,206.7 L290.0,206.8 L291.0,206.9 L292.0,206.9 L293.0,207.0 L294.0,206.9 L295.0,206.9 L296.0,206.9 L297.0,206.9 L298.0,206.9 L299.0,206.8 L300.0,206.8 L301.0,206.8 L302.0,206.7 L303.0,206.7 L304.0,206.6 L305.0,206.5 L306.0,206.5 L307.0,206.4 L308.0,206.3 L309.0,206.2 L310.0,206.1 L311.0,206.0 L312.0,205.9 L313.0,205.8 L314.0,205.7 L315.0,205.6 L316.0,205.5 L317.0,205.4 L318.0,205.3 L319.0,205.2 L320.0,205.1 L321.0,204.9 L322.0,204.8 L323.0,204.7 L324.0,204.6 L325.0,204.4 L326.0,204.3 L327.0,204.2 L328.0,204.1 L329.0,203.9 L330.0,203.8 L331.0,203.7 L332.0,203.6 L333.0,203.4 L334.0,203.3 L335.0,203.1 L336.0,203.0 L337.0,202.9 L338.0,202.7 L339.0,202.6 L340.0,202.4 L341.0,202.3 L342.0,202.1 L343.0,201.9" stroke="#000000"/>
<path d="M50.0,210.4 L51.0,210.3 L52.0,210.3 L53.0,210.2 L54.0,210.2 L55.0,210.1 L56.0,210.1 L57.0,210.0 L58.0,210.0 L59.0,209.9 L60.0,209.9 L61.0,209.8 L62.0,209.8 L63.0,209.7 L64.0,209.7 L65.0,209.6 L66.0,209.6 L67.0,209.5 L68.0,209.5 L69.0,209.4 L70.0,209.4 L71.0,209.3 L72.0,209.3 L73.0,209.2 L74.0,209.2 L75.0,209.1 L76.0,209.0 L77.0,209.0 L78.0,208.9 L79.0,208.9 L80.0,208.8 L81.0,208.7 L82.0,208.7 L83.0,208.6 L84.0,208.6 L85.0,208.5 L86.0,208.4 L87.0,208.4 L88.0,208.3 L89.0,208.3 L90.0,208.2 L91.0,208.2 L92.0,208.2 L93.0,208.2 L94.0,208.2 L95.0,208.2 L96.0,208.3 L97.0,208.3 L98.0,208.3 L99.0,208.3 L100.0,208.3 L101.0,208.3 L102.0,208.3 L103.0,208.4 L104.0,208.4 L105.0,208.4 L106.0,208.4 L107.0,208.4 L108.0,208.4 L109.0,208.5 L110.0,208.5 L111.0,208.5 L112.0,208.5 L113.0,208.5 L114.0,208.5 L115.0,208.5 L116.0,208.5 L117.0,208.6 L118.0,208.6 L119.0,208.6 L120.0,208.6 L121.0,208.6 L122.0,208.6 L123.0,208.6 L124.0,208.6 L125.0,208.6 L126.0,208.6 L127.0,208.6 L128.0,208.6 L129.0,208.6 L130.0,208.6 L131.0,208.6 L132.0,208.6 L133.0,208.6 L134.0,208.6 L135.0,208.6 L136.0,208.6 L137.0,208.6 L138.0,208.6 L139.0,208.6 L140.0,208.6 L141.0,208.5 L142.0,208.5 L143.0,208.4 L144.0,208.3 L145.0,208.2 L146.0,208.1 L147.0,208.0 L148.0,207.9 L149.0,207.8 L150.0,207.7 L151.0,207.6 L152.0,207.4 L153.0,207.3 L154.0,207.2 L155.0,207.0 L156.0,206.8 L157.0,206.7 L158.0,206.4 L159.0,206.2 L160.0,205.9 L161.0,205.6 L162.0,205.3 L163.0,205.1 L164.0,204.8 L165.0,204.5 L166.0,204.2 L167.0,203.9 L168.0,203.5 L169.0,203.2 L170.0,202.9 L171.0,202.5 L172.0,202.2 L173.0,201.8 L174.0,201.4 L175.0,201.0 L176.0,200.6 L177.0,200.2 L178.0,199.8 L179.0,199.3 L180.0,198.7 L181.0,198.1 L182.0,197.4 L183.0,196.6 L184.0,195.8 L185.0,194.8 L186.0,193.8 L187.0,192.8 L188.0,191.7 L189.0,190.3 L190.0,188.7 L191.0,186.9 L192.0,185.3 L193.0,183.6 L194.0,182.0 L195.0,180.4 L196.0,178.8 L197.0,177.0 L198.0,175.2 L199.0,173.4 L200.0,171.7 L201.0,170.1 L202.0,168.6 L203.0,167.0 L204.0,165.5 L205.0,164.2 L206.0,163.2 L207.0,162.5 L208.0,162.0 L209.0,161.8 L210.0,161.7 L211.0,161.7 L212.0,161.9 L213.0,162.0 L214.0,162.3 L215.0,162.7 L216.0,163.1 L217.0,163.6 L218.0,164.1 L219.0,164.7 L220.0,165.2 L221.0,165.8 L222.0,166.5 L223.0,167.1 L224.0,167.8 L225.0,168.5 L226.0,169.1 L227.0,169.8 L228.0,170.5 L229.0,171.3 L230.0,172.0 L231.0,172.7 L232.0,173.4 L233.0,174.2 L234.0,174.9 L235.0,175.7 L236.0,176.4 L237.0,177.2 L238.0,177.9 L239.0,178.6 L240.0,179.4 L241.0,180.1 L242.0,180.9 L243.0,181.6 L244.0,182.4 L245.0,183.1 L246.0,183.9 L247.0,184.6 L248.0,185.4 L249.0,186.2 L250.0,186.9 L251.0,187.6 L252.0,188.4 L253.0,189.1 L254.0,189.8 L255.0,190.5 L256.0,191.2 L257.0,191.9 L258.0,192.5 L259.0,193.2 L260.0,193.9 L261.0,194.5 L262.0,195.1 L263.0,195.8 L264.0,196.5 L265.0,197.1 L266.0,197.7 L267.0,198.4 L268.0,199.0 L269.0,199.6 L270.0,200.1 L271.0,200.7 L272.0,201.2 L273.0,201.7 L274.0,202.1 L275.0,202.5 L276.0,203.0 L277.0,203.4 L278.0,203.7 L279.0,204.1 L280.0,204.5 L281.0,204.9 L282.0,205.3 L283.0,205.6 L284.0,205.9 L285.0,206.1 L286.0,206.3 L287.0,206.5 L288.0,206.6 L289.0,206.7 L290.0,206.8 L291.0,206.9 L292.0,206.9 L293.0,207.0 L294.0,207.0 L295.0,207.0 L296.0,206.9 L297.0,206.9 L298.0,206.9 L299.0,206.9 L300.0,206.9 L301.0,206.9 L302.0,206.8 L303.0,206.8 L304.0,206.7 L305.0,206.7 L306.0,206.6 L307.0,206.6 L308.0,206.5 L309.0,206.5 L310.0,206.4 L311.0,206.3 L312.0,206.3 L313.0,206.2 L314.0,206.1 L315.0,206.1 L316.0,206.0 L317.0,205.9 L318.0,205.8 L319.0,205.7 L320.0,205.7 L321.0,205.6 L322.0,205.5 L323.0,205.4 L324.0,205.3 L325.0,205.2 L326.0,205.2 L327.0,205.1 L328.0,205.0 L329.0,204.9 L330.0,204.9 L331.0,204.8 L332.0,204.7 L333.0,204.6 L334.0,204.5 L335.0,204.4 L336.0,204.3 L337.0,204.2 L338.0,204.2 L339.0,204.1 L340.0,204.0 L341.0,203.9 L342.0,203.8 L343.0,203.7" stroke="#c0c0c0"/>
<path d="M50.0,210.5 L51.0,210.4 L52.0,210.4 L53.0,210.3 L54.0,210.3 L55.0,210.2 L56.0,210.2 L57.0,210.1 L58.0,210.1 L59.0,210.0 L60.0,210.0 L61.0,209.9 L62.0,209.9 L63.0,209.8 L64.0,209.8 L65.0,209.7 L66.0,209.7 L67.0,209.7 L68.0,209.6 L69.0,209.6 L70.0,209.5 L71.0,209.5 L72.0,209.4 L73.0,209.3 L74.0,209.3 L75.0,209.2 L76.0,209.2 L77.0,209.1 L78.0,209.0 L79.0,209.0 L80.0,208.9 L81.0,208.9 L82.0,208.8 L83.0,208.7 L84.0,208.7 L85.0,208.6 L86.0,208.6 L87.0,208.5 L88.0,208.4 L89.0,208.4 L90.0,208.3 L91.0,208.3 L92.0,208.3 L93.0,208.4 L94.0,208.4 L95.0,208.4 L96.0,208.4 L97.0,208.4 L98.0,208.4 L99.0,208.4 L100.0,208.4 L101.0,208.4 L102.0,208.4 L103.0,208.4 L104.0,208.4 L105.0,208.4 L106.0,208.4 L107.0,208.4 L108.0,208.4 L109.0,208.4 L110.0,208.4 L111.0,208.4 L112.0,208.4 L113.0,208.4 L114.0,208.4 L115.0,208.4 L116.0,208.4 L117.0,208.4 L118.0,208.4 L119.0,208.3 L120.0,208.3 L121.0,208.3 L122.0,208.2 L123.0,208.2 L124.0,208.1 L125.0,208.1 L126.0,208.1 L127.0,208.0 L128.0,208.0 L129.0,207.9 L130.0,207.9 L131.0,207.8 L132.0,207.8 L133.0,207.7 L134.0,207.7 L135.0,207.6 L136.0,207.5 L137.0,207.5 L138.0,207.4 L139.0,207.3 L140.0,207.2 L141.0,207.1 L142.0,207.0 L143.0,206.9 L144.0,206.8 L145.0,206.7 L146.0,206.5 L147.0,206.4 L148.0,206.3 L149.0,206.2 L150.0,206.1 L151.0,205.9 L152.0,205.8 L153.0,205.7 L154.0,205.5 L155.0,205.4 L156.0,205.2 L157.0,205.1 L158.0,204.9 L159.0,204.7 L160.0,204.6 L161.0,204.4 L162.0,204.3 L163.0,204.1 L164.0,203.9 L165.0,203.7 L166.0,203.5 L167.0,203.4 L168.0,203.2 L169.0,202.9 L170.0,202.7 L171.0,202.4 L172.0,202.2 L173.0,201.9 L174.0,201.6 L175.0,201.2 L176.0,200.8 L177.0,200.4 L178.0,200.0 L179.0,199.6 L180.0,199.1 L181.0,198.7 L182.0,198.2 L183.0,197.6 L184.0,197.0 L185.0,196.2 L186.0,195.4 L187.0,194.7 L188.0,194.0 L189.0,193.2 L190.0,192.5 L191.0,191.8 L192.0,191.0 L193.0,190.3 L194.0,189.5 L195.0,188.7 L196.0,187.9 L197.0,187.0 L198.0,186.2 L199.0,185.4 L200.0,184.6 L201.0,183.9 L202.0,183.2 L203.0,182.4 L204.0,181.7 L205.0,181.0 L206.0,180.4 L207.0,180.0 L208.0,179.6 L209.0,179.3 L210.0,179.1 L211.0,179.0 L212.0,179.0 L213.0,179.0 L214.0,179.1 L215.0,179.3 L216.0,179.5 L217.0,179.8 L218.0,180.2 L219.0,180.5 L220.0,180.9 L221.0,181.3 L222.0,181.7 L223.0,182.2 L224.0,182.6 L225.0,183.1 L226.0,183.6 L227.0,184.1 L228.0,184.5 L229.0,185.0 L230.0,185.4 L231.0,185.9 L232.0,186.3 L233.0,186.8 L234.0,187.2 L235.0,187.7 L236.0,188.1 L237.0,188.6 L238.0,189.0 L239.0,189.4 L240.0,189.9 L241.0,190.3 L242.0,190.7 L243.0,191.2 L244.0,191.6 L245.0,192.0 L246.0,192.4 L247.0,192.9 L248.0,193.3 L249.0,193.7 L250.0,194.1 L251.0,194.5 L252.0,194.9 L253.0,195.3 L254.0,195.7 L255.0,196.1 L256.0,196.4 L257.0,196.8 L258.0,197.2 L259.0,197.5 L260.0,197.9 L261.0,198.2 L262.0,198.6 L263.0,199.0 L264.0,199.4 L265.0,199.8 L266.0,200.2 L267.0,200.6 L268.0,201.0 L269.0,201.4 L270.0,201.8 L271.0,202.1 L272.0,202.5 L273.0,202.9 L274.0,203.2 L275.0,203.5 L276.0,203.8 L277.0,204.1 L278.0,204.4 L279.0,204.7 L280.0,205.0 L281.0,205.3 L282.0,205.6 L283.0,205.8 L284.0,206.1 L285.0,206.2 L286.0,206.4 L287.0,206.5 L288.0,206.6 L289.0,206.7 L290.0,206.8 L291.0,206.9 L292.0,206.9 L293.0,207.0 L294.0,207.0 L295.0,207.0 L296.0,207.0 L297.0,207.0 L298.0,207.0 L299.0,207.0 L300.0,206.9 L301.0,206.9 L302.0,206.9 L303.0,206.9 L304.0,206.9 L305.0,206.8 L306.0,206.8 L307.0,206.8 L308.0,206.7 L309.0,206.7 L310.0,206.7 L311.0,206.6 L312.0,206.6 L313.0,206.5 L314.0,206.5 L315.0,206.5 L316.0,206.4 L317.0,206.4 L318.0,206.3 L319.0,206.3 L320.0,206.2 L321.0,206.2 L322.0,206.1 L323.0,206.1 L324.0,206.0 L325.0,206.0 L326.0,206.0 L327.0,205.9 L328.0,205.9 L329.0,205.9 L330.0,205.8 L331.0,205.8 L332.0,205.7 L333.0,205.7 L334.0,205.7 L335.0,205.6 L336.0,205.6 L337.0,205.5 L338.0,205.5 L339.0,205.4 L340.0,205.4 L341.0,205.3 L342.0,205.3 L343.0,205.2" stroke="#808080"/>
<path d="M50.0,207.9 L51.0,208.0 L52.0,208.0 L53.0,208.1 L54.0,208.1 L55.0,208.2 L56.0,208.2 L57.0,208.3 L58.0,208.3 L59.0,208.3 L60.0,208.4 L61.0,208.4 L62.0,208.5 L63.0,208.5 L64.0,208.6 L65.0,208.6 L66.0,208.7 L67.0,208.7 L68.0,208.8 L69.0,208.8 L70.0,208.9 L71.0,208.9 L72.0,209.0 L73.0,209.0 L74.0,209.1 L75.0,209.1 L76.0,209.2 L77.0,209.2 L78.0,209.3 L79.0,209.3 L80.0,209.3 L81.0,209.4 L82.0,209.4 L83.0,209.5 L84.0,209.5 L85.0,209.6 L86.0,209.6 L87.0,209.6 L88.0,209.7 L89.0,209.7 L90.0,209.8 L91.0,209.8 L92.0,209.8 L93.0,209.9 L94.0,209.9 L95.0,210.0 L96.0,210.0 L97.0,210.0 L98.0,210.1 L99.0,210.1 L100.0,210.2 L101.0,210.2 L102.0,210.2 L103.0,210.3 L104.0,210.3 L105.0,210.4 L106.0,210.4 L107.0,210.4 L108.0,210.5 L109.0,210.5 L110.0,210.5 L111.0,210.5 L112.0,210.5 L113.0,210.5 L114.0,210.5 L115.0,210.5 L116.0,210.5 L117.0,210.5 L118.0,210.4 L119.0,210.4 L120.0,210.4 L121.0,210.4 L122.0,210.4 L123.0,210.4 L124.0,210.3 L125.0,210.3 L126.0,210.3 L127.0,210.2 L128.0,210.2 L129.0,210.1 L130.0,210.1 L131.0,210.1 L132.0,210.0 L133.0,210.0 L134.0,209.9 L135.0,209.9 L136.0,209.8 L137.0,209.7 L138.0,209.7 L139.0,209.6 L140.0,209.5 L141.0,209.4 L142.0,209.4 L143.0,209.3 L144.0,209.2 L145.0,209.1 L146.0,208.9 L147.0,208.8 L148.0,208.7 L149.0,208.6 L150.0,208.5 L151.0,208.4 L152.0,208.3 L153.0,208.1 L154.0,208.0 L155.0,207.9 L156.0,207.8 L157.0,207.6 L158.0,207.5 L159.0,207.4 L160.0,207.3 L161.0,207.1 L162.0,207.0 L163.0,206.8 L164.0,206.7 L165.0,206.6 L166.0,206.4 L167.0,206.3 L168.0,206.1 L169.0,206.0 L170.0,205.8 L171.0,205.6 L172.0,205.4 L173.0,205.2 L174.0,204.9 L175.0,204.6 L176.0,204.3 L177.0,204.0 L178.0,203.7 L179.0,203.4 L180.0,203.1 L181.0,202.7 L182.0,202.2 L183.0,201.6 L184.0,201.1 L185.0,200.6 L186.0,200.1 L187.0,199.6 L188.0,199.2 L189.0,198.7 L190.0,198.2 L191.0,197.7 L192.0,197.2 L193.0,196.7 L194.0,196.2 L195.0,195.8 L196.0,195.3 L197.0,194.9 L198.0,194.5 L199.0,194.1 L200.0,193.7 L201.0,193.3 L202.0,193.0 L203.0,192.7 L204.0,192.5 L205.0,192.4 L206.0,192.2 L207.0,192.2 L208.0,192.1 L209.0,192.1 L210.0,192.1 L211.0,192.2 L212.0,192.2 L213.0,192.3 L214.0,192.5 L215.0,192.7 L216.0,192.8 L217.0,193.0 L218.0,193.2 L219.0,193.5 L220.0,193.7 L221.0,193.9 L222.0,194.2 L223.0,194.4 L224.0,194.7 L225.0,194.9 L226.0,195.2 L227.0,195.5 L228.0,195.8 L229.0,196.0 L230.0,196.3 L231.0,196.6 L232.0,196.9 L233.0,197.2 L234.0,197.5 L235.0,197.7 L236.0,198.0 L237.0,198.3 L238.0,198.6 L239.0,198.9 L240.0,199.2 L241.0,199.4 L242.0,199.7 L243.0,200.0 L244.0,200.3 L245.0,200.6 L246.0,200.9 L247.0,201.2 L248.0,201.4 L249.0,201.7 L250.0,202.0 L251.0,202.3 L252.0,202.5 L253.0,202.8 L254.0,203.0 L255.0,203.3 L256.0,203.5 L257.0,203.8 L258.0,204.0 L259.0,204.2 L260.0,204.4 L261.0,204.6 L262.0,204.8 L263.0,205.0 L264.0,205.2 L265.0,205.3 L266.0,205.4 L267.0,205.6 L268.0,205.7 L269.0,205.8 L270.0,205.9 L271.0,206.0 L272.0,206.1 L273.0,206.2 L274.0,206.3 L275.0,206.4 L276.0,206.5 L277.0,206.5 L278.0,206.6 L279.0,206.7 L280.0,206.8 L281.0,206.8 L282.0,206.9 L283.0,206.9 L284.0,207.0 L285.0,207.0 L286.0,207.0 L287.0,207.0 L288.0,207.0 L289.0,207.0 L290.0,206.9 L291.0,207.0 L292.0,207.0 L293.0,207.0 L294.0,207.0 L295.0,207.0 L296.0,207.0 L297.0,207.0 L298.0,207.0 L299.0,207.0 L300.0,207.0 L301.0,207.0 L302.0,207.0 L303.0,207.0 L304.0,207.0 L305.0,207.0 L306.0,206.9 L307.0,206.9 L308.0,206.9 L309.0,206.9 L310.0,206.9 L311.0,206.8 L312.0,206.8 L313.0,206.8 L314.0,206.8 L315.0,206.8 L316.0,206.7 L317.0,206.7 L318.0,206.7 L319.0,206.7 L320.0,206.6 L321.0,206.6 L322.0,206.6 L323.0,206.6 L324.0,206.6 L325.0,206.6 L326.0,206.6 L327.0,206.6 L328.0,206.6 L329.0,206.6 L330.0,206.6 L331.0,206.6 L332.0,206.5 L333.0,206.5 L334.0,206.5 L335.0,206.5 L336.0,206.5 L337.0,206.5 L338.0,206.5 L339.0,206.5 L340.0,206.5 L341.0,206.5 L342.0,206.5 L343.0,206.4" stroke="#000000"/>
<path d="M50.0,210.6 L51.0,210.5 L52.0,210.5 L53.0,210.4 L54.0,210.4 L55.0,210.3 L56.0,210.3 L57.0,210.2 L58.0,210.2 L59.0,210.1 L60.0,210.1 L61.0,210.0 L62.0,210.0 L63.0,209.9 L64.0,209.9 L65.0,209.8 L66.0,209.8 L67.0,209.7 L68.0,209.7 L69.0,209.6 L70.0,209.6 L71.0,209.5 L72.0,209.5 L73.0,209.4 L74.0,209.3 L75.0,209.3 L76.0,209.2 L77.0,209.2 L78.0,209.1 L79.0,209.0 L80.0,209.0 L81.0,208.9 L82.0,208.9 L83.0,208.8 L84.0,208.7 L85.0,208.7 L86.0,208.6 L87.0,208.6 L88.0,208.5 L89.0,208.4 L90.0,208.4 L91.0,208.4 L92.0,208.4 L93.0,208.4 L94.0,208.4 L95.0,208.4 L96.0,208.4 L97.0,208.5 L98.0,208.5 L99.0,208.5 L100.0,208.5 L101.0,208.5 L102.0,208.5 L103.0,208.5 L104.0,208.5 L105.0,208.5 L106.0,208.5 L107.0,208.6 L108.0,208.6 L109.0,208.6 L110.0,208.6 L111.0,208.6 L112.0,208.6 L113.0,208.6 L114.0,208.6 L115.0,208.6 L116.0,208.6 L117.0,208.7 L118.0,208.7 L119.0,208.7 L120.0,208.7 L121.0,208.7 L122.0,208.7 L123.0,208.7 L124.0,208.7 L125.0,208.7 L126.0,208.7 L127.0,208.8 L128.0,208.8 L129.0,208.8 L130.0,208.8 L131.0,208.8 L132.0,208.8 L133.0,208.8 L134.0,208.8 L135.0,208.8 L136.0,208.8 L137.0,208.9 L138.0,208.9 L139.0,208.9 L140.0,208.9 L141.0,208.9 L142.0,208.9 L143.0,208.9 L144.0,208.9 L145.0,208.9 L146.0,208.9 L147.0,208.9 L148.0,209.0 L149.0,209.0 L150.0,209.0 L151.0,209.0 L152.0,209.0 L153.0,209.0 L154.0,209.0 L155.0,209.0 L156.0,208.9 L157.0,208.9 L158.0,208.9 L159.0,208.9 L160.0,208.9 L161.0,208.9 L162.0,208.9 L163.0,208.9 L164.0,208.9 L165.0,208.8 L166.0,208.8 L167.0,208.8 L168.0,208.8 L169.0,208.8 L170.0,208.8 L171.0,208.7 L172.0,208.7 L173.0,208.7 L174.0,208.6 L175.0,208.6 L176.0,208.6 L177.0,208.6 L178.0,208.5 L179.0,208.5 L180.0,208.5 L181.0,208.4 L182.0,208.4 L183.0,208.4 L184.0,208.3 L185.0,208.3 L186.0,208.3 L187.0,208.2 L188.0,208.2 L189.0,208.2 L190.0,208.1 L191.0,208.1 L192.0,208.0 L193.0,207.9 L194.0,207.9 L195.0,207.8 L196.0,207.7 L197.0,207.6 L198.0,207.5 L199.0,207.4 L200.0,207.3 L201.0,207.1 L202.0,206.9 L203.0,206.8 L204.0,206.6 L205.0,206.5 L206.0,206.3 L207.0,206.2 L208.0,206.0 L209.0,205.8 L210.0,205.7 L211.0,205.5 L212.0,205.4 L213.0,205.3 L214.0,205.1 L215.0,205.0 L216.0,204.9 L217.0,204.8 L218.0,204.7 L219.0,204.7 L220.0,204.6 L221.0,204.6 L222.0,204.6 L223.0,204.6 L224.0,204.6 L225.0,204.7 L226.0,204.7 L227.0,204.8 L228.0,204.8 L229.0,204.9 L230.0,205.0 L231.0,205.0 L232.0,205.1 L233.0,205.2 L234.0,205.3 L235.0,205.4 L236.0,205.5 L237.0,205.6 L238.0,205.7 L239.0,205.7 L240.0,205.8 L241.0,205.9 L242.0,206.0 L243.0,206.1 L244.0,206.2 L245.0,206.3 L246.0,206.4 L247.0,206.5 L248.0,206.6 L249.0,206.7 L250.0,206.8 L251.0,206.9 L252.0,207.0 L253.0,207.1 L254.0,207.2 L255.0,207.3 L256.0,207.4 L257.0,207.5 L258.0,207.6 L259.0,207.6 L260.0,207.7 L261.0,207.8 L262.0,207.9 L263.0,207.9 L264.0,207.9 L265.0,207.9 L266.0,207.8 L267.0,207.8 L268.0,207.8 L269.0,207.8 L270.0,207.8 L271.0,207.8 L272.0,207.7 L273.0,207.7 L274.0,207.7 L275.0,207.7 L276.0,207.6 L277.0,207.6 L278.0,207.5 L279.0,207.5 L280.0,207.5 L281.0,207.4 L282.0,207.4 L283.0,207.4 L284.0,207.3 L285.0,207.3 L286.0,207.2 L287.0,207.2 L288.0,207.1 L289.0,207.1 L290.0,207.0 L291.0,207.0 L292.0,207.0 L293.0,207.0 L294.0,207.0 L295.0,207.0 L296.0,207.0 L297.0,207.0 L298.0,207.0 L299.0,207.0 L300.0,207.0 L301.0,207.0 L302.0,207.1 L303.0,207.1 L304.0,207.1 L305.0,207.1 L306.0,207.1 L307.0,207.1 L308.0,207.1 L309.0,207.1 L310.0,207.1 L311.0,207.1 L312.0,207.1 L313.0,207.1 L314.0,207.1 L315.0,207.1 L316.0,207.1 L317.0,207.1 L318.0,207.1 L319.0,207.0 L320.0,207.0 L321.0,207.0 L322.0,207.0 L323.0,207.1 L324.0,207.1 L325.0,207.1 L326.0,207.1 L327.0,207.2 L328.0,207.2 L329.0,207.2 L330.0,207.3 L331.0,207.3 L332.0,207.3 L333.0,207.3 L334.0,207.4 L335.0,207.4 L336.0,207.4 L337.0,207.4 L338.0,207.5 L339.0,207.5 L340.0,207.5 L341.0,207.5 L342.0,207.6 L343.0,207.6" stroke="#808080"/>
<path d="M50.0,131.0 L51.0,131.9 L52.0,132.8 L53.0,133.7 L54.0,134.5 L55.0,135.4 L56.0,136.3 L57.0,137.1 L58.0,138.0 L59.0,138.9 L60.0,139.7 L61.0,140.6 L62.0,141.4 L63.0,142.3 L64.0,143.1 L65.0,143.9 L66.0,144.8 L67.0,145.6 L68.0,146.4 L69.0,147.2 L70.0,148.0 L71.0,148.8 L72.0,149.6 L73.0,150.4 L74.0,151.2 L75.0,152.0 L76.0,152.8 L77.0,153.6 L78.0,154.3 L79.0,155.1 L80.0,155.9 L81.0,156.6 L82.0,157.4 L83.0,158.1 L84.0,158.9 L85.0,159.6 L86.0,160.4 L87.0,161.1 L88.0,161.9 L89.0,162.6 L90.0,163.3 L91.0,164.0 L92.0,164.8 L93.0,165.5 L94.0,166.2 L95.0,166.9 L96.0,167.6 L97.0,168.3 L98.0,169.0 L99.0,169.7 L100.0,170.4 L101.0,171.1 L102.0,171.8 L103.0,172.5 L104.0,173.2 L105.0,173.9 L106.0,174.5 L107.0,175.2 L108.0,175.9 L109.0,176.6 L110.0,177.3 L111.0,178.0 L112.0,178.7 L113.0,179.3 L114.0,180.0 L115.0,180.7 L116.0,181.4 L117.0,182.0 L118.0,182.7 L119.0,183.4 L120.0,184.0 L121.0,184.7 L122.0,185.3 L123.0,185.9 L124.0,186.6 L125.0,187.2 L126.0,187.8 L127.0,188.4 L128.0,189.0 L129.0,189.6 L130.0,190.2 L131.0,190.8 L132.0,191.3 L133.0,191.9 L134.0,192.5 L135.0,193.0 L136.0,193.5 L137.0,194.1 L138.0,194.6 L139.0,195.2 L140.0,195.7 L141.0,196.3 L142.0,196.8 L143.0,197.4 L144.0,197.9 L145.0,198.4 L146.0,198.9 L147.0,199.4 L148.0,199.8 L149.0,200.2 L150.0,200.7 L151.0,201.0 L152.0,201.4 L153.0,201.7 L154.0,202.0 L155.0,202.3 L156.0,202.5 L157.0,202.8 L158.0,203.0 L159.0,203.2 L160.0,203.4 L161.0,203.6 L162.0,203.8 L163.0,204.0 L164.0,204.2 L165.0,204.4 L166.0,204.5 L167.0,204.7 L168.0,204.8 L169.0,205.0 L170.0,205.1 L171.0,205.3 L172.0,205.4 L173.0,205.5 L174.0,205.6 L175.0,205.8 L176.0,205.9 L177.0,206.0 L178.0,206.1 L179.0,206.2 L180.0,206.4 L181.0,206.5 L182.0,206.6 L183.0,206.7 L184.0,206.8 L185.0,206.9 L186.0,207.0 L187.0,207.1 L188.0,207.2 L189.0,207.3 L190.0,207.4 L191.0,207.4 L192.0,207.5 L193.0,207.6 L194.0,207.7 L195.0,207.7 L196.0,207.8 L197.0,207.9 L198.0,207.9 L199.0,208.0 L200.0,208.0 L201.0,208.0 L202.0,208.1 L203.0,208.1 L204.0,208.2 L205.0,208.2 L206.0,208.2 L207.0,208.3 L208.0,208.3 L209.0,208.3 L210.0,208.3 L211.0,208.4 L212.0,208.4 L213.0,208.4 L214.0,208.5 L215.0,208.5 L216.0,208.5 L217.0,208.5 L218.0,208.5 L219.0,208.6 L220.0,208.6 L221.0,208.6 L222.0,208.6 L223.0,208.7 L224.0,208.7 L225.0,208.7 L226.0,208.7 L227.0,208.7 L228.0,208.8 L229.0,208.8 L230.0,208.8 L231.0,208.8 L232.0,208.8 L233.0,208.9 L234.0,208.9 L235.0,208.9 L236.0,208.9 L237.0,208.9 L238.0,209.0 L239.0,209.0 L240.0,209.0 L241.0,209.0 L242.0,209.0 L243.0,209.1 L244.0,209.1 L245.0,209.1 L246.0,209.1 L247.0,209.1 L248.0,209.2 L249.0,209.2 L250.0,209.2 L251.0,209.2 L252.0,209.2 L253.0,209.2 L254.0,209.2 L255.0,209.3 L256.0,209.3 L257.0,209.3 L258.0,209.3 L259.0,209.3 L260.0,209.3 L261.0,209.3 L262.0,209.4 L263.0,209.4 L264.0,209.4 L265.0,209.4 L266.0,209.4 L267.0,209.4 L268.0,209.5 L269.0,209.5 L270.0,209.5 L271.0,209.5 L272.0,209.5 L273.0,209.5 L274.0,209.6 L275.0,209.6 L276.0,209.6 L277.0,209.6 L278.0,209.7 L279.0,209.7 L280.0,209.7 L281.0,209.7 L282.0,209.8 L283.0,209.8 L284.0,209.8 L285.0,209.9 L286.0,209.9 L287.0,209.9 L288.0,210.0 L289.0,210.1 L290.0,210.2 L291.0,210.3 L292.0,210.4 L293.0,210.5 L294.0,210.6 L295.0,210.7 L296.0,210.8 L297.0,210.9 L298.0,210.9 L299.0,211.0 L300.0,211.0 L301.0,211.0 L302.0,211.0 L303.0,211.0 L304.0,211.0 L305.0,211.0 L306.0,211.0 L307.0,211.0 L308.0,211.0 L309.0,211.0 L310.0,211.0 L311.0,211.0 L312.0,211.0 L313.0,211.0 L314.0,211.0 L315.0,210.9 L316.0,210.9 L317.0,210.8 L318.0,210.8 L319.0,210.7 L320.0,210.6 L321.0,210.5 L322.0,210.5 L323.0,210.4 L324.0,210.3 L325.0,210.2 L326.0,210.1 L327.0,210.1 L328.0,210.0 L329.0,209.9 L330.0,209.9 L331.0,209.8 L332.0,209.8 L333.0,209.7 L334.0,209.7 L335.0,209.6 L336.0,209.6 L337.0,209.5 L338.0,209.5 L339.0,209.4 L340.0,209.3 L341.0,209.3 L342.0,209.2 L343.0,209.2" stroke="#c0c0c0"/>
</g>
<g stroke="#161616" stroke-width="1.25" fill="none">
<path d="M50.0,24.0 H343.0 V233.1 H50.0 Z"/>
<path d="M45.5,209.6 H50.0"/>
<path d="M45.5,163.2 H50.0"/>
<path d="M45.5,116.8 H50.0"/>
<path d="M45.5,70.4 H50.0"/>
<path d="M45.5,24.0 H50.0"/>
<path d="M47.5,186.4 H50.0"/>
<path d="M47.5,140.0 H50.0"/>
<path d="M47.5,93.6 H50.0"/>
<path d="M47.5,47.2 H50.0"/>
<path d="M50.0,233.1 V238.1"/>
<path d="M108.6,233.1 V238.1"/>
<path d="M167.2,233.1 V238.1"/>
<path d="M225.8,233.1 V238.1"/>
<path d="M284.4,233.1 V238.1"/>
<path d="M343.0,233.1 V238.1"/>
<path d="M79.3,233.1 V235.6"/>
<path d="M137.9,233.1 V235.6"/>
<path d="M196.5,233.1 V235.6"/>
<path d="M255.1,233.1 V235.6"/>
<path d="M313.7,233.1 V235.6"/>
</g>
<g font-family="'Liberation Serif', serif" font-size="13.2px" fill="#111">
<text x="42" y="214.0" text-anchor="end">0.0</text>
<text x="42" y="167.6" text-anchor="end">3.0</text>
<text x="42" y="121.2" text-anchor="end">6.0</text>
<text x="42" y="74.8" text-anchor="end">9.0</text>
<text x="42" y="28.4" text-anchor="end">12.0</text>
<text x="50.0" y="251.7" text-anchor="middle">0.4</text>
<text x="108.6" y="251.7" text-anchor="middle">0.5</text>
<text x="167.2" y="251.7" text-anchor="middle">0.6</text>
<text x="225.8" y="251.7" text-anchor="middle">0.7</text>
<text x="284.4" y="251.7" text-anchor="middle">0.8</text>
<text x="343.0" y="251.7" text-anchor="middle">0.9</text>
</g>
<text x="197.2" y="271.6" text-anchor="middle" letter-spacing="0.3" font-family="'Liberation Serif', serif" font-style="italic" font-size="17.8px" fill="#111">E/V vs Ag/AgCl</text>
<text transform="translate(13,135.2) rotate(-90)" text-anchor="middle" font-family="'Liberation Serif', serif" font-style="italic" font-size="17.5px" fill="#111">I/μA</text>
<text x="2" y="15.6" font-family="'Liberation Sans', sans-serif" font-weight="bold" font-size="22.5px" fill="#111">a</text>
<path d="M313.5,158.6 V107" stroke="#222" stroke-width="1.1"/>
<path d="M313.5,102 L311.7,108.6 L313.5,107.6 L315.3,108.6 Z" fill="#222"/>
<g font-family="'Liberation Sans', sans-serif" font-weight="bold" fill="#111" text-anchor="middle">
<text x="313.5" y="96.5" font-size="11px" stroke="#111" stroke-width="0.3">l</text><text transform="translate(313.6,170.6) scale(0.82,1)" font-size="13.2px">a</text></g>
<g stroke="#161616" stroke-width="1.25" fill="none">
<path d="M416.0,24.8 H684.0 V233.2 H416.0 Z"/>
<path d="M411.5,216.5 H416.0"/>
<path d="M411.5,168.6 H416.0"/>
<path d="M411.5,120.7 H416.0"/>
<path d="M411.5,72.7 H416.0"/>
<path d="M411.5,24.8 H416.0"/>
<path d="M413.5,192.5 H416.0"/>
<path d="M413.5,144.6 H416.0"/>
<path d="M413.5,96.7 H416.0"/>
<path d="M413.5,48.8 H416.0"/>
<path d="M442.3,233.2 V237.7"/>
<path d="M496.2,233.2 V237.7"/>
<path d="M550.1,233.2 V237.7"/>
<path d="M604.0,233.2 V237.7"/>
<path d="M657.9,233.2 V237.7"/>
<path d="M469.2,233.2 V235.7"/>
<path d="M523.1,233.2 V235.7"/>
<path d="M577.0,233.2 V235.7"/>
<path d="M631.0,233.2 V235.7"/>
</g>
<g font-family="'Liberation Serif', serif" font-size="14px" fill="#111">
<text transform="translate(409,221.7) scale(0.93,1)" text-anchor="end">0,0</text>
<text transform="translate(409,173.8) scale(0.93,1)" text-anchor="end">3,0</text>
<text transform="translate(409,125.9) scale(0.93,1)" text-anchor="end">6,0</text>
<text transform="translate(409,77.9) scale(0.93,1)" text-anchor="end">9,0</text>
<text transform="translate(409,30.0) scale(0.93,1)" text-anchor="end">12,0</text>
<text transform="translate(442.8,249.7) scale(0.93,1)" text-anchor="middle">0,0</text>
<text transform="translate(496.7,249.7) scale(0.93,1)" text-anchor="middle">5,0</text>
<text transform="translate(550.6,249.7) scale(0.93,1)" text-anchor="middle">10,0</text>
<text transform="translate(604.5,249.7) scale(0.93,1)" text-anchor="middle">15,0</text>
<text transform="translate(658.4,249.7) scale(0.93,1)" text-anchor="middle">20,0</text>
</g>
<text transform="translate(469.2,270) scale(0.917,1)" font-family="'Liberation Serif', serif" font-size="17px" fill="#111">[2,4,6 TCF] x 10<tspan dy="-5.6" font-size="11px">-6</tspan><tspan dy="5.6"> mol L</tspan><tspan dy="-5.6" font-size="11px">-1</tspan></text>
<text transform="translate(376,139) rotate(-90) scale(1,0.9)" text-anchor="middle" font-family="'Liberation Serif', serif" font-size="16.5px" fill="#111">Ip / µA</text>
<text x="365" y="15.6" font-family="'Liberation Sans', sans-serif" font-weight="bold" font-size="22px" fill="#111">b</text>
<g font-family="'Liberation Serif', serif" font-size="14.4px" fill="#111">
<text transform="translate(421.2,41.3) scale(0.93,1)">r = 0.9995</text>
<text transform="translate(421.2,58.4) scale(0.93,1)">S = 0.0037</text>
<text transform="translate(421.2,75.6) scale(0.93,1)">B = 0.5390</text>
</g>
<g stroke="#808080" stroke-width="1" fill="none">
<path d="M463.1,182.0 V208.2 M460.8,182.0 H465.4 M460.8,208.2 H465.4"/>
<path d="M484.0,164.5 V194.1 M481.7,164.5 H486.3 M481.7,194.1 H486.3"/>
<path d="M504.9,146.6 V182.0 M502.6,146.6 H507.2 M502.6,182.0 H507.2"/>
<path d="M525.0,130.3 V176.3 M522.7,130.3 H527.3 M522.7,176.3 H527.3"/>
<path d="M545.8,120.0 V146.6 M543.5,120.0 H548.1 M543.5,146.6 H548.1"/>
<path d="M567.9,103.0 V123.8 M565.6,103.0 H570.2 M565.6,123.8 H570.2"/>
<path d="M587.5,90.4 V109.6 M585.2,90.4 H589.8 M585.2,109.6 H589.8"/>
<path d="M608.3,68.0 V95.8 M606.0,68.0 H610.6 M606.0,95.8 H610.6"/>
<path d="M628.8,53.0 V84.2 M626.5,53.0 H631.1 M626.5,84.2 H631.1"/>
<path d="M650.0,40.4 V61.7 M647.7,40.4 H652.3 M647.7,61.7 H652.3"/>
</g>
<g fill="#000">
<rect x="439.5" y="213.2" width="6" height="6"/>
<rect x="460.1" y="191.9" width="6" height="6"/>
<rect x="481.0" y="176.7" width="6" height="6"/>
<rect x="501.9" y="161.5" width="6" height="6"/>
<rect x="522.0" y="150.5" width="6" height="6"/>
<rect x="542.8" y="131.2" width="6" height="6"/>
<rect x="564.9" y="110.3" width="6" height="6"/>
<rect x="584.5" y="97.0" width="6" height="6"/>
<rect x="605.3" y="79.0" width="6" height="6"/>
<rect x="625.8" y="65.0" width="6" height="6"/>
<rect x="647.0" y="47.8" width="6" height="6"/>
</g>
<path d="M442.5,214.6 V217.8 M441,214.6 H444 M441,217.8 H444" stroke="#8a8a8a" stroke-width="0.9" fill="none"/>
<path d="M443.5,214.9 L651,50" stroke="#7c7c7c" stroke-width="1.75" fill="none"/>
</svg>
</body></html>
